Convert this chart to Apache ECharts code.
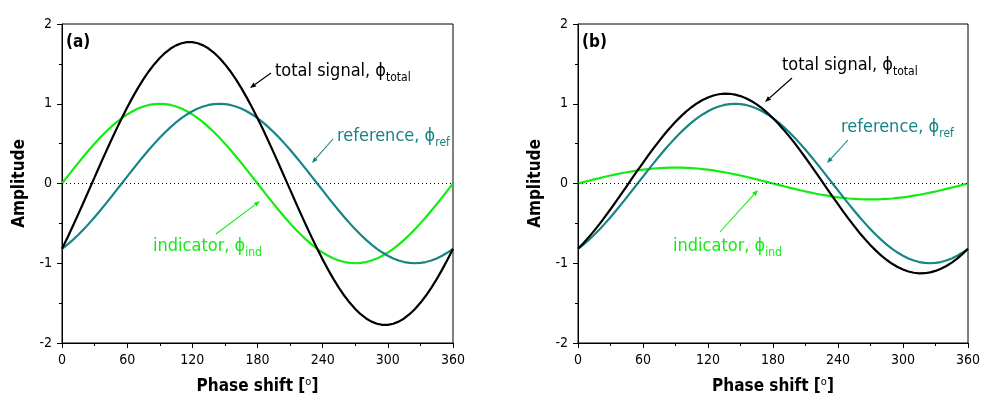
<!DOCTYPE html>
<html>
<head>
<meta charset="utf-8">
<script src="https://cdn.jsdelivr.net/npm/echarts@6/dist/echarts.min.js"></script>
<style>
html,body{margin:0;padding:0;background:#fff;}
#chart{width:981px;height:397px;}
</style>
</head>
<body>
<div id="chart"></div>
<script>
// ---- data ----
var phase = [0,5,10,15,20,25,30,35,40,45,50,55,60,65,70,75,80,85,90,95,100,105,110,115,120,125,130,135,140,145,150,155,160,165,170,175,180,185,190,195,200,205,210,215,220,225,230,235,240,245,250,255,260,265,270,275,280,285,290,295,300,305,310,315,320,325,330,335,340,345,350,355,360];

var indicatorA = [0,0.087,0.174,0.259,0.342,0.423,0.5,0.574,0.643,0.707,0.766,0.819,0.866,0.906,0.94,0.966,0.985,0.996,1,0.996,0.985,0.966,0.94,0.906,0.866,0.819,0.766,0.707,0.643,0.574,0.5,0.423,0.342,0.259,0.174,0.087,0,-0.087,-0.174,-0.259,-0.342,-0.423,-0.5,-0.574,-0.643,-0.707,-0.766,-0.819,-0.866,-0.906,-0.94,-0.966,-0.985,-0.996,-1,-0.996,-0.985,-0.966,-0.94,-0.906,-0.866,-0.819,-0.766,-0.707,-0.643,-0.574,-0.5,-0.423,-0.342,-0.259,-0.174,-0.087,0];
var referenceA = [-0.819,-0.766,-0.707,-0.643,-0.574,-0.5,-0.423,-0.342,-0.259,-0.174,-0.087,0,0.087,0.174,0.259,0.342,0.423,0.5,0.574,0.643,0.707,0.766,0.819,0.866,0.906,0.94,0.966,0.985,0.996,1,0.996,0.985,0.966,0.94,0.906,0.866,0.819,0.766,0.707,0.643,0.574,0.5,0.423,0.342,0.259,0.174,0.087,0,-0.087,-0.174,-0.259,-0.342,-0.423,-0.5,-0.574,-0.643,-0.707,-0.766,-0.819,-0.866,-0.906,-0.94,-0.966,-0.985,-0.996,-1,-0.996,-0.985,-0.966,-0.94,-0.906,-0.866,-0.819];
var totalA = [-0.819,-0.679,-0.533,-0.384,-0.232,-0.077,0.077,0.232,0.384,0.533,0.679,0.819,0.953,1.08,1.199,1.308,1.408,1.496,1.574,1.639,1.692,1.732,1.759,1.772,1.772,1.759,1.732,1.692,1.639,1.574,1.496,1.408,1.308,1.199,1.08,0.953,0.819,0.679,0.533,0.384,0.232,0.077,-0.077,-0.232,-0.384,-0.533,-0.679,-0.819,-0.953,-1.08,-1.199,-1.308,-1.408,-1.496,-1.574,-1.639,-1.692,-1.732,-1.759,-1.772,-1.772,-1.759,-1.732,-1.692,-1.639,-1.574,-1.496,-1.408,-1.308,-1.199,-1.08,-0.953,-0.819];

var indicatorB = [0,0.017,0.035,0.052,0.068,0.085,0.1,0.115,0.129,0.141,0.153,0.164,0.173,0.181,0.188,0.193,0.197,0.199,0.2,0.199,0.197,0.193,0.188,0.181,0.173,0.164,0.153,0.141,0.129,0.115,0.1,0.085,0.068,0.052,0.035,0.017,0,-0.017,-0.035,-0.052,-0.068,-0.085,-0.1,-0.115,-0.129,-0.141,-0.153,-0.164,-0.173,-0.181,-0.188,-0.193,-0.197,-0.199,-0.2,-0.199,-0.197,-0.193,-0.188,-0.181,-0.173,-0.164,-0.153,-0.141,-0.129,-0.115,-0.1,-0.085,-0.068,-0.052,-0.035,-0.017,0];
var referenceB = [-0.819,-0.766,-0.707,-0.643,-0.574,-0.5,-0.423,-0.342,-0.259,-0.174,-0.087,0,0.087,0.174,0.259,0.342,0.423,0.5,0.574,0.643,0.707,0.766,0.819,0.866,0.906,0.94,0.966,0.985,0.996,1,0.996,0.985,0.966,0.94,0.906,0.866,0.819,0.766,0.707,0.643,0.574,0.5,0.423,0.342,0.259,0.174,0.087,0,-0.087,-0.174,-0.259,-0.342,-0.423,-0.5,-0.574,-0.643,-0.707,-0.766,-0.819,-0.866,-0.906,-0.94,-0.966,-0.985,-0.996,-1,-0.996,-0.985,-0.966,-0.94,-0.906,-0.866,-0.819];
var totalB = [-0.819,-0.749,-0.672,-0.591,-0.506,-0.415,-0.323,-0.227,-0.13,-0.033,0.066,0.164,0.26,0.355,0.447,0.535,0.62,0.699,0.774,0.842,0.904,0.959,1.007,1.047,1.079,1.104,1.119,1.126,1.125,1.115,1.096,1.07,1.034,0.992,0.941,0.883,0.819,0.749,0.672,0.591,0.506,0.415,0.323,0.227,0.13,0.033,-0.066,-0.164,-0.26,-0.355,-0.447,-0.535,-0.62,-0.699,-0.774,-0.842,-0.904,-0.959,-1.007,-1.047,-1.079,-1.104,-1.119,-1.126,-1.125,-1.115,-1.096,-1.07,-1.034,-0.992,-0.941,-0.883,-0.819];

var xTicks = [0,60,120,180,240,300,360];
var yTicks = [-2,-1,0,1,2];
var panelLabels = ['(a)','(b)'];

// ---- styles ----
var FONT = '"DejaVu Sans Condensed","DejaVu Sans",Tahoma,sans-serif';
var GREEN = '#12ec12';
var TEAL = '#178585';
var BLACK = '#000000';

function pairs(xs, ys){ return xs.map(function(x,i){ return [x, ys[i]]; }); }

var grids = [
  {left:62, top:24, width:391, height:319},
  {left:578, top:24, width:390, height:319}
];

function xAxis(gi){
  return {
    type:'value', gridIndex:gi, min:xTicks[0], max:xTicks[xTicks.length-1], interval:60,
    axisLine:{show:true, onZero:false, lineStyle:{color:BLACK, width:1}},
    axisTick:{show:true, inside:false, length:5, lineStyle:{color:BLACK}},
    minorTick:{show:true, splitNumber:2, length:3, lineStyle:{color:BLACK}},
    splitLine:{show:false},
    axisLabel:{color:BLACK, fontFamily:FONT, fontSize:14, margin:10},
    name:'Phase shift [{sup|o}]', nameLocation:'middle', nameGap:34,
    nameTextStyle:{color:BLACK, fontFamily:FONT, fontSize:17, fontWeight:'bold',
      rich:{sup:{fontSize:11, fontWeight:'normal', fontFamily:FONT, color:BLACK, padding:[0,0,9,0]}}}
  };
}
function yAxis(gi){
  return {
    type:'value', gridIndex:gi, min:yTicks[0], max:yTicks[yTicks.length-1], interval:1,
    axisLine:{show:true, onZero:false, lineStyle:{color:BLACK, width:1}},
    axisTick:{show:true, inside:false, length:5, lineStyle:{color:BLACK}},
    minorTick:{show:true, splitNumber:2, length:3, lineStyle:{color:BLACK}},
    splitLine:{show:false},
    axisLabel:{color:BLACK, fontFamily:FONT, fontSize:14, margin:10},
    name:'Amplitude', nameLocation:'middle', nameGap:34, nameRotate:90,
    nameTextStyle:{color:BLACK, fontFamily:FONT, fontSize:17, fontWeight:'bold'}
  };
}

function line(gi, data, color, withZero){
  var s = {
    type:'line', xAxisIndex:gi, yAxisIndex:gi, data:pairs(phase, data),
    smooth:false, showSymbol:false, symbol:'none', animation:false,
    lineStyle:{color:color, width:2.2, join:'round'}
  };
  if (withZero){
    s.markLine = {silent:true, symbol:['none','none'], label:{show:false}, animation:false,
      lineStyle:{color:BLACK, type:[1,3], width:1}, data:[{yAxis:0}]};
  }
  return s;
}

// annotations (pixel layout)
function label(x, y, main, sub, color){
  return {type:'text', x:x, y:y, z:100,
    style:{text:'{m|'+main+'}{s|'+sub+'}', fill:color, verticalAlign:'middle', align:'left',
      rich:{
        m:{fontFamily:FONT, fontSize:18, fill:color, color:color, lineHeight:24},
        s:{fontFamily:FONT, fontSize:12, fill:color, color:color, lineHeight:12, padding:[13,0,0,0]}
      }}};
}
function arrow(x1,y1,x2,y2,color){
  var ang = Math.atan2(y2-y1, x2-x1), L = 6, W = 2.4;
  var bx = x2 - L*Math.cos(ang), by = y2 - L*Math.sin(ang);
  var px = -Math.sin(ang)*W, py = Math.cos(ang)*W;
  return [
    {type:'line', z:100, shape:{x1:x1,y1:y1,x2:bx,y2:by}, style:{stroke:color, lineWidth:1.1}},
    {type:'polygon', z:100, shape:{points:[[x2,y2],[bx+px,by+py],[bx-px,by-py]]}, style:{fill:color}}
  ];
}

var PHI = '\u03D5';
var graphics = [
  {type:'text', x:66, y:43, z:100, style:{text:panelLabels[0], fontFamily:FONT, fontSize:17, fontWeight:'bold', fill:BLACK, verticalAlign:'middle'}},
  {type:'text', x:582, y:43, z:100, style:{text:panelLabels[1], fontFamily:FONT, fontSize:17, fontWeight:'bold', fill:BLACK, verticalAlign:'middle'}},
  label(275, 71, 'total signal, ' + PHI, 'total', BLACK),
  label(337, 136, 'reference, ' + PHI, 'ref', TEAL),
  label(153, 246, 'indicator, ' + PHI, 'ind', GREEN),
  label(782, 65, 'total signal, ' + PHI, 'total', BLACK),
  label(841, 127, 'reference, ' + PHI, 'ref', TEAL),
  label(673, 246, 'indicator, ' + PHI, 'ind', GREEN)
];
graphics = graphics
  .concat(arrow(271,73,250,88,BLACK))
  .concat(arrow(333,139,312,163,TEAL))
  .concat(arrow(216,234,260,201,GREEN))
  .concat(arrow(792,78,765,102,BLACK))
  .concat(arrow(848,140,827,163,TEAL))
  .concat(arrow(720,232,758,190,GREEN));

var chart = echarts.init(document.getElementById('chart'), null, {renderer:'canvas'});
chart.setOption({
  animation:false,
  backgroundColor:'#ffffff',
  grid: grids.map(function(g){ return Object.assign({show:true, borderColor:BLACK, borderWidth:1, backgroundColor:'transparent', containLabel:false, outerBoundsMode:'none'}, g); }),
  xAxis:[xAxis(0), xAxis(1)],
  yAxis:[yAxis(0), yAxis(1)],
  series:[
    line(0, indicatorA, GREEN, true),
    line(0, referenceA, TEAL, false),
    line(0, totalA, BLACK, false),
    line(1, indicatorB, GREEN, true),
    line(1, referenceB, TEAL, false),
    line(1, totalB, BLACK, false)
  ],
  graphic: graphics
});
</script>
</body>
</html>
